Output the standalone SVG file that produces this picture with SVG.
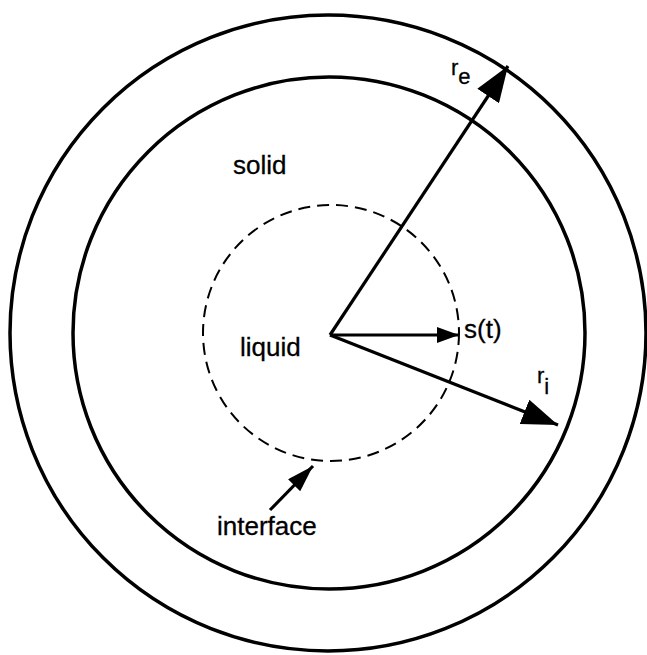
<svg xmlns="http://www.w3.org/2000/svg" width="647" height="655" viewBox="0 0 647 655">
<style>
.c{fill:none;stroke:#000;stroke-width:3.5}
.d{fill:none;stroke:#000;stroke-width:2;stroke-dasharray:12 7}
.a{fill:none;stroke:#000;stroke-width:3.2}
.t{font-family:"Liberation Sans",Arial,sans-serif;font-size:26px;fill:#000;stroke:#000;stroke-width:0.3}
.s{font-family:"Liberation Sans",Arial,sans-serif;font-size:22px;fill:#000;stroke:#000;stroke-width:0.3}
</style>
<defs>
<marker id="ah" viewBox="0 0 36 26" refX="36" refY="13" markerWidth="36" markerHeight="26" markerUnits="userSpaceOnUse" orient="auto">
<path d="M0,0 L36,13 L0,26 z" fill="#000"/>
</marker>
<marker id="ahs" viewBox="0 0 22 16" refX="22" refY="8" markerWidth="22" markerHeight="16" markerUnits="userSpaceOnUse" orient="auto">
<path d="M0,0 L22,8 L0,16 z" fill="#000"/>
</marker>
<marker id="ahm" viewBox="0 0 27 17" refX="27" refY="8.5" markerWidth="27" markerHeight="17" markerUnits="userSpaceOnUse" orient="auto">
<path d="M0,0 L27,8.5 L0,17 z" fill="#000"/>
</marker>
</defs>
<rect width="647" height="655" fill="#fff"/>
<g id="outer"><circle class="c" cx="328" cy="333" r="318"/></g>
<g id="inner"><circle class="c" cx="329" cy="333" r="256"/></g>
<g id="interface-circle"><circle class="d" cx="331" cy="333" r="128"/></g>
<g id="connectors">
<line class="a" x1="330" y1="335" x2="508" y2="66" marker-end="url(#ah)"/>
<line class="a" x1="330" y1="335" x2="459" y2="335" marker-end="url(#ahs)"/>
<line class="a" x1="330" y1="335" x2="558" y2="425" marker-end="url(#ah)"/>
<line class="a" x1="270" y1="510" x2="313" y2="466" marker-end="url(#ahm)"/>
</g>
<g id="labels">
<text class="t" x="233" y="174">solid</text>
<text class="t" x="240" y="356">liquid</text>
<text class="t" x="464" y="338">s(t)</text>
<text class="t" x="217" y="535">interface</text>
<text class="s" x="451" y="75">r<tspan dy="9">e</tspan></text>
<text class="s" x="537" y="383">r<tspan dy="11">i</tspan></text>
</g>
</svg>
